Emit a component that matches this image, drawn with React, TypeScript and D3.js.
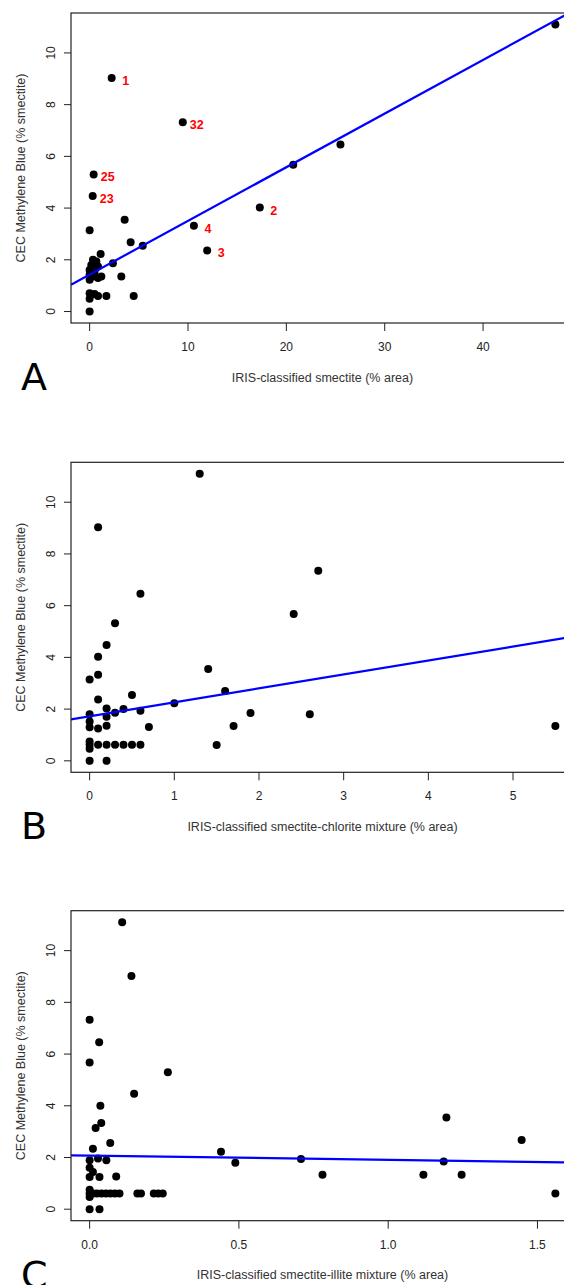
import React from "react";
import * as d3 from "d3";

// ---- Panel A: IRIS-classified smectite ----
const xA = [47.35, 2.24, 9.47, 25.5, 20.7, 0.41, 0.31, 17.3, 3.56, 10.6, 0.0, 4.17, 5.4, 11.95, 1.12, 2.37, 0.34, 0.68, 0.17, 0.85, 0.0, 0.5, 0.0, 0.34, 1.19, 0.0, 0.85, 3.22, 0.0, 0.5, 0.0, 0.85, 1.7, 4.48, 0.0];
const yA = [11.1, 9.03, 7.32, 6.46, 5.68, 5.3, 4.47, 4.02, 3.55, 3.32, 3.14, 2.68, 2.54, 2.36, 2.22, 1.87, 2.0, 1.93, 1.8, 1.74, 1.61, 1.54, 1.42, 1.35, 1.35, 1.23, 1.3, 1.35, 0.71, 0.68, 0.49, 0.6, 0.6, 0.6, 0.0];
const labelIndexA = [1, 2, 5, 6, 7, 9, 13];
const labelTextA = ["1", "32", "25", "23", "2", "4", "3"];
const fitA = [1.43, 0.2075];
const xTicksA = [0, 10, 20, 30, 40];

// ---- Panel B: smectite-chlorite mixture ----
const xB = [1.3, 0.1, 2.7, 0.6, 2.41, 0.3, 0.2, 0.1, 1.4, 0.1, 0.0, 1.6, 0.5, 0.1, 1.0, 0.2, 0.4, 0.6, 1.9, 0.3, 2.6, 0.0, 0.2, 0.0, 0.2, 1.7, 5.5, 0.0, 0.7, 0.1, 0.0, 0.0, 0.1, 0.2, 0.3, 0.4, 0.5, 0.6, 1.5, 0.0, 0.0, 0.2];
const yB = [11.1, 9.03, 7.35, 6.46, 5.68, 5.32, 4.48, 4.02, 3.55, 3.33, 3.14, 2.7, 2.55, 2.37, 2.23, 2.02, 2.0, 1.94, 1.85, 1.86, 1.8, 1.8, 1.7, 1.52, 1.36, 1.35, 1.35, 1.3, 1.31, 1.25, 0.75, 0.62, 0.62, 0.62, 0.62, 0.62, 0.62, 0.62, 0.61, 0.47, 0.0, 0.0];
const fitB = [1.72, 0.54];
const xTicksB = [0, 1, 2, 3, 4, 5];

// ---- Panel C: smectite-illite mixture ----
const xC = [0.109, 0.14, 0.0, 0.032, 0.0, 0.262, 0.149, 0.036, 1.195, 0.039, 0.02, 1.447, 0.069, 0.011, 0.44, 0.028, 0.708, 1.186, 0.056, 0.488, 0.0, 0.0, 0.011, 0.78, 1.118, 1.246, 0.0, 0.033, 0.089, 0.0, 0.0, 0.012, 0.025, 0.04, 0.055, 0.07, 0.085, 0.1, 0.16, 0.172, 0.215, 0.23, 0.245, 1.56, 0.0, 0.0, 0.033];
const yC = [11.1, 9.02, 7.33, 6.46, 5.67, 5.3, 4.47, 4.0, 3.55, 3.33, 3.14, 2.68, 2.56, 2.34, 2.22, 1.96, 1.94, 1.85, 1.89, 1.8, 1.89, 1.6, 1.44, 1.33, 1.33, 1.33, 1.25, 1.25, 1.27, 0.75, 0.61, 0.61, 0.61, 0.61, 0.61, 0.61, 0.61, 0.61, 0.61, 0.61, 0.61, 0.61, 0.61, 0.61, 0.47, 0.0, 0.0];
const fitC = [2.075, -0.167];
const xTicksC = [0, 0.5, 1.0, 1.5];

const yTicks = [0, 2, 4, 6, 8, 10];
const yTitle = "CEC Methylene Blue (% smectite)";

const FONT = "'Liberation Sans', Arial, Helvetica, sans-serif";

function padExtent(vals: number[]): [number, number] {
  const [lo, hi] = d3.extent(vals) as [number, number];
  const p = (hi - lo) * 0.04;
  return [lo - p, hi + p];
}

interface PanelProps {
  id: string;
  offset: number;
  xs: number[];
  ys: number[];
  xTicks: number[];
  xFmt: (v: number) => string;
  fit: number[];
  xTitle: string;
  letter: string;
  labelIndex?: number[];
  labelText?: string[];
}

function Panel(props: PanelProps) {
  const { id, offset, xs, ys, xTicks, xFmt, fit, xTitle, letter, labelIndex, labelText } = props;
  const left = 71;
  const right = 574;
  const top = 13 + offset;
  const bottom = 323 + offset;
  const x = d3.scaleLinear().domain(padExtent(xs)).range([left, right]);
  const y = d3.scaleLinear().domain(padExtent(ys)).range([bottom, top]);
  const [d0, d1] = x.domain();
  const line = d3.line<number>().x((v) => x(v)).y((v) => y(fit[0] + fit[1] * v));
  const clipId = `clip-${id}`;
  return (
    <g>
      <defs>
        <clipPath id={clipId}>
          <rect x={left} y={top} width={right - left} height={bottom - top} />
        </clipPath>
      </defs>
      <g clipPath={`url(#${clipId})`}>
        {xs.map((v, i) => (
          <circle key={i} cx={x(v)} cy={y(ys[i])} r={4} fill="#000" />
        ))}
        <path d={line([d0, d1]) || ""} stroke="#0000ff" strokeWidth={2.2} fill="none" />
      </g>
      {labelIndex &&
        labelText &&
        labelIndex.map((idx, k) => (
          <text
            key={k}
            x={x(xs[idx]) + 14}
            y={y(ys[idx]) + 7}
            textAnchor="middle"
            fontFamily={FONT}
            fontWeight="bold"
            fontSize={12.5}
            fill="#ff0000"
          >
            {labelText[k]}
          </text>
        ))}
      <rect x={left} y={top} width={right - left} height={bottom - top} fill="none" stroke="#222" strokeWidth={1.2} />
      {/* y axis */}
      {yTicks.map((t) => (
        <g key={t}>
          <line x1={left - 7} x2={left} y1={y(t)} y2={y(t)} stroke="#222" strokeWidth={1} />
          <text
            transform={`translate(54.5,${y(t)}) rotate(-90)`}
            textAnchor="middle"
            fontFamily={FONT}
            fontSize={12}
            fill="#222"
          >
            {t}
          </text>
        </g>
      ))}
      {/* x axis */}
      {xTicks.map((t) => (
        <g key={t}>
          <line x1={x(t)} x2={x(t)} y1={bottom} y2={bottom + 8} stroke="#222" strokeWidth={1} />
          <text x={x(t)} y={bottom + 28} textAnchor="middle" fontFamily={FONT} fontSize={12} fill="#222">
            {xFmt(t)}
          </text>
        </g>
      ))}
      <text
        transform={`translate(24.5,${(top + bottom) / 2}) rotate(-90)`}
        textAnchor="middle"
        fontFamily={FONT}
        fontSize={12.5}
        fill="#333"
      >
        {yTitle}
      </text>
      <text x={(left + right) / 2} y={bottom + 58.5} textAnchor="middle" fontFamily={FONT} fontSize={12.5} fill="#333">
        {xTitle}
      </text>
      <text x={21} y={bottom + 67} fontFamily="'DejaVu Sans', sans-serif" fontSize={38} fill="#000">
        {letter}
      </text>
    </g>
  );
}

export default function App() {
  const intFmt = d3.format("d");
  const oneFmt = d3.format(".1f");
  return (
    <svg
      width={564}
      height={1285}
      style={{ position: "absolute", left: 0, top: 0, background: "#fff" }}
    >
      <rect x={0} y={0} width={564} height={1285} fill="#fff" />
      <Panel
        id="a"
        offset={0}
        xs={xA}
        ys={yA}
        xTicks={xTicksA}
        xFmt={intFmt}
        fit={fitA}
        xTitle="IRIS-classified smectite (% area)"
        letter="A"
        labelIndex={labelIndexA}
        labelText={labelTextA}
      />
      <Panel
        id="b"
        offset={449.3}
        xs={xB}
        ys={yB}
        xTicks={xTicksB}
        xFmt={intFmt}
        fit={fitB}
        xTitle="IRIS-classified smectite-chlorite mixture (% area)"
        letter="B"
      />
      <Panel
        id="c"
        offset={897.7}
        xs={xC}
        ys={yC}
        xTicks={xTicksC}
        xFmt={oneFmt}
        fit={fitC}
        xTitle="IRIS-classified smectite-illite mixture (% area)"
        letter="C"
      />
    </svg>
  );
}
